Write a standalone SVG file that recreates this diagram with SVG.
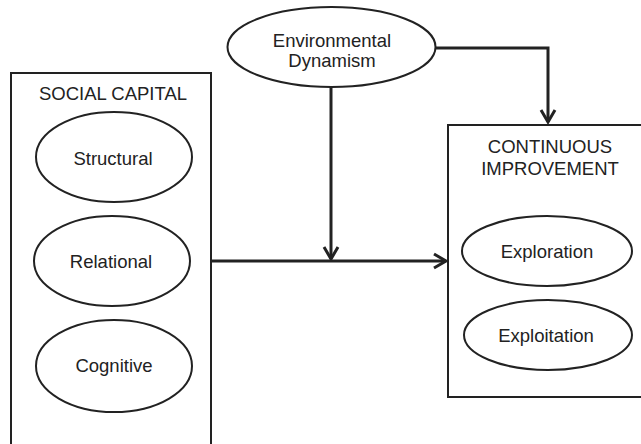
<svg xmlns="http://www.w3.org/2000/svg" width="641" height="444" viewBox="0 0 641 444">
<defs>
<style>
.box{fill:none;stroke:#222;stroke-width:2}
.ell{fill:#fff;stroke:#222;stroke-width:2}
.lbl{font-family:"Liberation Sans",Arial,sans-serif;font-size:18.5px;fill:#222;text-anchor:middle}
.con{fill:none;stroke:#222;stroke-width:3}
</style>
<marker id="arr" markerUnits="userSpaceOnUse" markerWidth="20" markerHeight="20" viewBox="-16 -10 20 20" refX="0" refY="0" orient="auto">
<path d="M-12,-7 L0,0 L-12,7" fill="none" stroke="#222" stroke-width="3"/>
</marker>
</defs>
<rect width="641" height="444" fill="#fff"/>
<g id="social-capital">
<rect class="box" x="11" y="73" width="200" height="390"/>
<text class="lbl" x="113" y="100">SOCIAL CAPITAL</text>
</g>
<g id="structural">
<ellipse class="ell" cx="114" cy="157" rx="78" ry="45"/>
<text class="lbl" x="113" y="165">Structural</text>
</g>
<g id="relational">
<ellipse class="ell" cx="112" cy="261" rx="78" ry="45"/>
<text class="lbl" x="111" y="268">Relational</text>
</g>
<g id="cognitive">
<ellipse class="ell" cx="114" cy="366" rx="78" ry="46"/>
<text class="lbl" x="114" y="372">Cognitive</text>
</g>
<g id="continuous-improvement">
<rect class="box" x="448" y="125" width="210" height="272"/>
<text class="lbl" x="550" y="153">CONTINUOUS</text>
<text class="lbl" x="550" y="175">IMPROVEMENT</text>
</g>
<g id="exploration">
<ellipse class="ell" cx="547" cy="251" rx="85" ry="35"/>
<text class="lbl" x="547" y="258">Exploration</text>
</g>
<g id="exploitation">
<ellipse class="ell" cx="548" cy="335" rx="84" ry="35"/>
<text class="lbl" x="546" y="342">Exploitation</text>
</g>
<g id="environmental-dynamism">
<ellipse class="ell" cx="331.5" cy="47" rx="104" ry="40"/>
<text class="lbl" x="332" y="47">Environmental</text>
<text class="lbl" x="332" y="67">Dynamism</text>
</g>
<g id="connectors">
<path class="con" d="M436,48 H548 V122" marker-end="url(#arr)"/>
<path class="con" d="M331,87 V259" marker-end="url(#arr)"/>
<path class="con" d="M212,261 H446" marker-end="url(#arr)"/>
</g>
</svg>
